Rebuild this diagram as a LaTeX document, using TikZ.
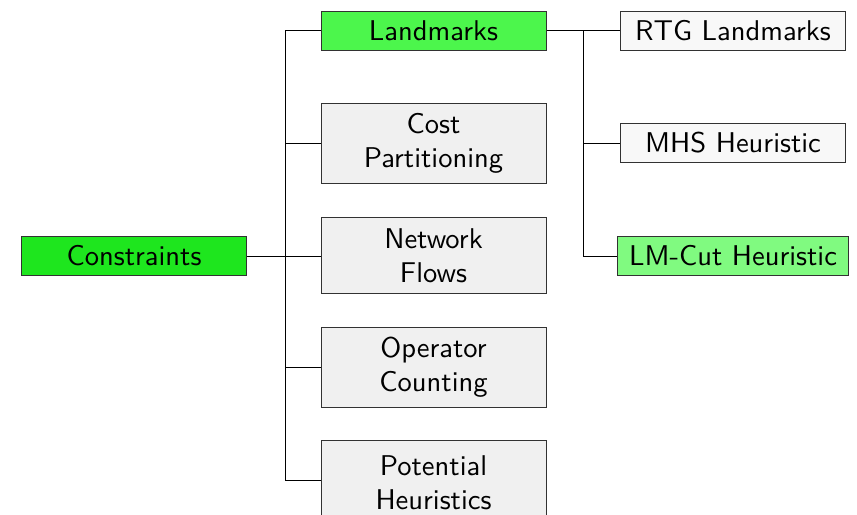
\documentclass[tikz,border=0pt]{standalone}
\usepackage{tikz}
\definecolor{cgreen}{RGB}{30,230,30}
\definecolor{lgreen}{RGB}{76,246,76}
\definecolor{pgreen}{RGB}{128,250,128}
\definecolor{boxgray}{RGB}{240,240,240}
\definecolor{boxwhite}{RGB}{248,248,248}
\definecolor{edge}{RGB}{50,50,50}
\tikzset{
  box/.style={draw=edge, line width=0.35pt, font=\sffamily, align=center,
    minimum width=78.75pt, inner xsep=4pt, inner ysep=0pt},
  one/.style={box, minimum height=13.6pt},
  two/.style={box, fill=boxgray, minimum height=28pt},
  conn/.style={draw=black, line width=0.35pt}
}
\begin{document}
\begin{tikzpicture}[x=0.35pt, y=-0.35pt]
\useasboundingbox (0,0) rectangle (857,514);
\node[one, fill=cgreen] (con) at (134,256) {Constraints};
\node[one, fill=lgreen] (lm) at (433.5,31) {Landmarks};
\node[two] (cp) at (433.5,143) {Cost\\Partitioning};
\node[two, minimum height=26.3pt] (nf) at (433.5,255.5) {Network\\Flows};
\node[two] (oc) at (433.5,367.5) {Operator\\Counting};
\node[two, minimum height=29.5pt] (ph) at (433.5,483) {Potential\\Heuristics};
\node[one, fill=boxwhite] (rtg) at (733,31) {RTG Landmarks};
\node[one, fill=boxwhite] (mhs) at (733,143) {MHS Heuristic};
\node[one, fill=pgreen] (lmc) at (733,256) {LM-Cut Heuristic};
\coordinate (j1) at (285,256);
\coordinate (j2) at (583,31);
\coordinate (phin) at (321,480);
\draw[conn] (con.east) -- (j1);
\draw[conn] (j1) |- (lm.west);
\draw[conn] (j1) |- (cp.west);
\draw[conn] (j1) -- (nf.west |- j1);
\draw[conn] (j1) |- (oc.west);
\draw[conn] (j1) |- (phin);
\draw[conn] (lm.east) -- (j2);
\draw[conn] (j2) -- (rtg.west);
\draw[conn] (j2) |- (mhs.west);
\draw[conn] (j2) |- (lmc.west);
\end{tikzpicture}
\end{document}
